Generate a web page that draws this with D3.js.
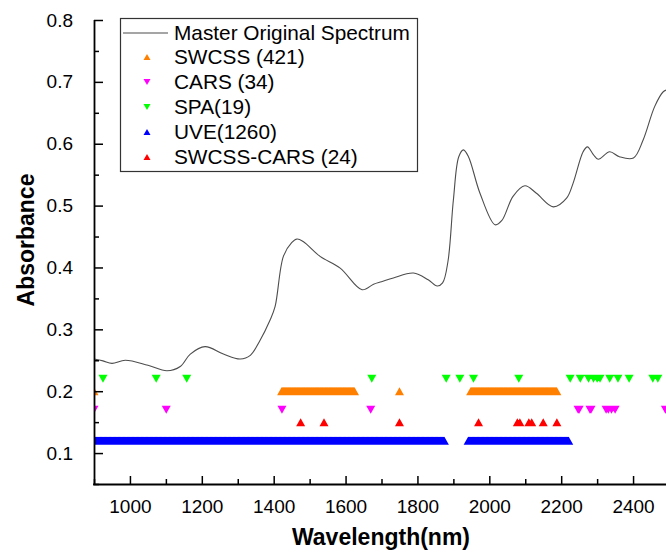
<!DOCTYPE html>
<html><head><meta charset="utf-8">
<script src="https://cdn.jsdelivr.net/npm/d3@7"></script>
<style>
html,body{margin:0;padding:0;background:#fff;}
svg{display:block;font-family:"Liberation Sans",Arial,sans-serif;}
</style></head>
<body><svg id="c" width="666" height="552"></svg>
<script>
// ---- data ----
const spectrumWavelength = [900,925,950,987,1050,1103,1140,1168,1209,1260,1307,1335,1360,1390,1404,1427,1450,1465,1482,1529,1585,1646,1678,1700,1733,1789,1830,1855,1870,1885,1900,1915,1928,1942,1974,2016,2035,2066,2099,2131,2178,2215,2233,2261,2273,2290,2303,2335,2362,2401,2428,2460,2484,2500];
const spectrumAbsorbance = [0.252,0.249,0.245,0.250,0.242,0.233,0.240,0.260,0.272,0.260,0.252,0.258,0.280,0.315,0.337,0.418,0.440,0.446,0.442,0.418,0.399,0.364,0.373,0.377,0.383,0.391,0.380,0.370,0.375,0.410,0.509,0.579,0.590,0.579,0.520,0.469,0.476,0.515,0.532,0.520,0.498,0.512,0.536,0.587,0.595,0.582,0.575,0.587,0.579,0.577,0.606,0.660,0.684,0.688];

const swcssLevel = 0.20;
const swcssPoints = [900, 1750];
const swcssRanges = [[1422, 1625], [1948, 2188]];

const carsLevel = 0.17;
const carsPoints = [900, 1101, 1423, 1670, 2247, 2250, 2280, 2283, 2325, 2331, 2340, 2350, 2490];

const spaLevel = 0.22;
const spaPoints = [925, 1073, 1158, 1673, 1880, 1918, 1956, 2082, 2225, 2253, 2276, 2290, 2300, 2308, 2335, 2358, 2389, 2455, 2469];

const uveLevel = 0.12;
const uveRanges = [[900, 1875], [1941, 2221]];

const swcssCarsLevel = 0.15;
const swcssCarsPoints = [1475, 1540, 1750, 1970, 2078, 2085, 2110, 2118, 2150, 2188];

const xTicks = [1000, 1200, 1400, 1600, 1800, 2000, 2200, 2400];
const xMinorTicks = [900,1100,1300,1500,1700,1900,2100,2300,2500];
const yTicks = [0.1, 0.2, 0.3, 0.4, 0.5, 0.6, 0.7, 0.8];
const yMinorTicks = [0.05,0.15,0.25,0.35,0.45,0.55,0.65,0.75];

const legendLabels = ["Master Original Spectrum","SWCSS (421)","CARS (34)","SPA(19)","UVE(1260)","SWCSS-CARS (24)"];
const colors = {swcss:"#FF8000", cars:"#FF00FF", spa:"#00FF00", uve:"#0000FF", sc:"#FF0000"};

// ---- layout ----
const svg = d3.select("#c");
const x = d3.scaleLinear().domain([900, 2500]).range([94, 669]);
const y = d3.scaleLinear().domain([0.05, 0.8]).range([484, 20]);

function expand(ranges){ const out=[]; ranges.forEach(([a,b])=>{ for(let w=a; w<=b; w+=1) out.push(w); }); return out; }

function tri(cx, cy, w, h, up){
  const hw=w/2, hh=h/2;
  return up ? `M${cx-hw},${cy+hh}L${cx},${cy-hh}L${cx+hw},${cy+hh}Z`
            : `M${cx-hw},${cy-hh}L${cx},${cy+hh}L${cx+hw},${cy-hh}Z`;
}

svg.append("clipPath").attr("id","clip").append("rect")
  .attr("x",94).attr("y",0).attr("width",600).attr("height",484);

const plot = svg.append("g").attr("clip-path","url(#clip)");

function drawMarkers(data, level, color, up){
  plot.append("path")
    .attr("d", data.map(w=>tri(x(w), y(level), 9, 8, up)).join(""))
    .attr("fill", color);
}

drawMarkers(expand(uveRanges), uveLevel, colors.uve, true);
drawMarkers(swcssPoints.concat(expand(swcssRanges)), swcssLevel, colors.swcss, true);
drawMarkers(carsPoints, carsLevel, colors.cars, false);
drawMarkers(spaPoints, spaLevel, colors.spa, false);
drawMarkers(swcssCarsPoints, swcssCarsLevel, colors.sc, true);

const line = d3.line().x((d,i)=>x(spectrumWavelength[i])).y(d=>y(d)).curve(d3.curveCatmullRom.alpha(0.5));
plot.append("path").datum(spectrumAbsorbance).attr("d", line)
  .attr("fill","none").attr("stroke","#4d4d4d").attr("stroke-width",1.1);

// ---- axes ----
const xAxis = d3.axisBottom(x).tickValues(xTicks).tickSizeInner(-8).tickSizeOuter(0).tickPadding(16).tickFormat(d3.format("d"));
const gx = svg.append("g").attr("transform","translate(0,484)").call(xAxis);
const xMinor = d3.axisBottom(x).tickValues(xMinorTicks).tickSizeInner(-5).tickSizeOuter(0).tickFormat("");
const gxm = svg.append("g").attr("transform","translate(0,484)").call(xMinor);
gxm.select(".domain").remove();

const yAxis = d3.axisLeft(y).tickValues(yTicks).tickSizeInner(-9).tickSizeOuter(0).tickPadding(21).tickFormat(d3.format(".1f"));
const gy = svg.append("g").attr("transform","translate(94,0)").call(yAxis);
const yMinor = d3.axisLeft(y).tickValues(yMinorTicks).tickSizeInner(-5).tickSizeOuter(0).tickFormat("");
const gym = svg.append("g").attr("transform","translate(94,0)").call(yMinor);
gym.select(".domain").remove();

[gx,gy,gxm,gym].forEach(g=>{
  g.selectAll("line").attr("stroke","#000").attr("stroke-width",1.5);
  g.selectAll(".domain").attr("stroke","#000").attr("stroke-width",1.8);
  g.selectAll("text").attr("font-size",19).attr("fill","#000").attr("font-family","Liberation Sans, Arial, sans-serif");
});
gy.select(".domain").attr("d","M0.5,20V484.9");
gx.select(".domain").attr("d","M93.1,0.5H670");

svg.append("text").attr("x",381).attr("y",545).attr("text-anchor","middle")
  .attr("font-size",23).attr("font-weight","bold").text("Wavelength(nm)");
svg.append("text").attr("transform","translate(34,240) rotate(-90)").attr("text-anchor","middle")
  .attr("font-size",23).attr("font-weight","bold").text("Absorbance");

// ---- legend ----
const lg = svg.append("g");
lg.append("rect").attr("x",120.5).attr("y",18.5).attr("width",297).attr("height",153)
  .attr("fill","#fff").attr("stroke","#333").attr("stroke-width",1.2);
const rowY = [33, 57, 82, 107, 132, 157];
lg.append("line").attr("x1",123).attr("x2",168).attr("y1",rowY[0]).attr("y2",rowY[0])
  .attr("stroke","#4d4d4d").attr("stroke-width",1.1);
const legSym = [null,[colors.swcss,true],[colors.cars,false],[colors.spa,false],[colors.uve,true],[colors.sc,true]];
legSym.forEach((s,i)=>{ if(!s) return;
  lg.append("path").attr("d", tri(147, rowY[i], 7, 6, s[1])).attr("fill", s[0]);
});
legendLabels.forEach((t,i)=>{
  lg.append("text").attr("x",174).attr("y",rowY[i]+7).attr("font-size",20.8).attr("fill","#000").text(t);
});
</script></body></html>
